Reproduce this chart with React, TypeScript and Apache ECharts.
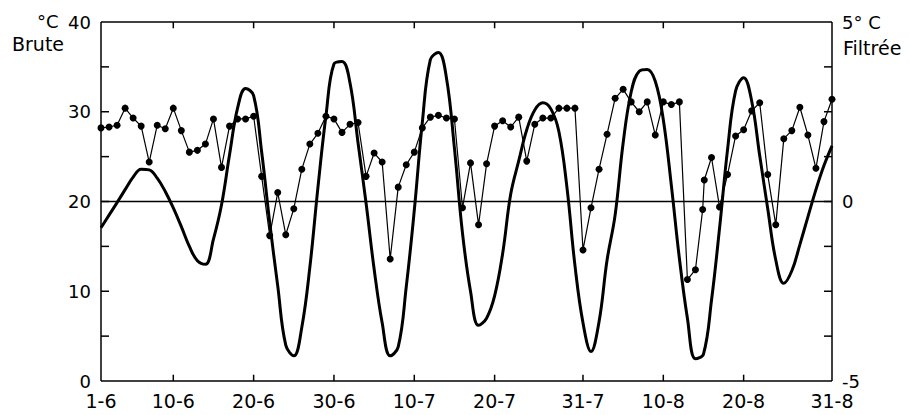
import React, { useEffect, useRef } from "react";
import * as echarts from "echarts";

// x-axis: days from 1 June to 31 August; labelled ticks at these day indices
const monthNumbers = [6, 7, 8];
const monthLengths = [30, 31, 31];
const tickDays = [0, 9, 19, 29, 39, 49, 60, 70, 80, 91];
const tickLabels = ["1-6", "10-6", "20-6", "30-6", "10-7", "20-7", "31-7", "10-8", "20-8", "31-8"];
const leftTicks = [0, 10, 20, 30, 40];
const minorLeftTicks = [5, 10, 15, 20, 25, 30, 35];

// Raw temperature (°C, left axis "Brute"); x = day index from 1 June
const rawDays = [
  0, 1, 2, 3, 4, 5, 6, 7, 8, 9,
  10, 11, 12, 13, 14, 15, 16, 17, 18, 19,
  20, 21, 22, 23, 24, 25, 26, 27, 28, 29,
  30, 31, 32, 33, 34, 35, 36, 37, 38, 39,
  40, 41, 42, 43, 44, 45, 46, 47, 48, 49,
  50, 51, 52, 53, 54, 55, 56, 57, 58, 59,
  60, 61, 62, 63, 64, 65, 66, 67, 68, 69,
  70, 71, 72, 73, 74, 74.9, 75.1, 76, 77, 78,
  79, 80, 81, 82, 83, 84, 85, 86, 87, 88,
  89, 90, 91,
];
const rawTemps = [
  28.2, 28.3, 28.5, 30.4, 29.3, 28.4, 24.4, 28.5, 28.1, 30.4,
  27.9, 25.5, 25.7, 26.4, 29.2, 23.8, 28.4, 29.2, 29.2, 29.5,
  22.8, 16.2, 21.0, 16.3, 19.2, 23.6, 26.4, 27.6, 29.5, 29.2,
  27.7, 28.6, 28.8, 22.8, 25.4, 24.4, 13.6, 21.6, 24.1, 25.5,
  28.2, 29.4, 29.6, 29.3, 29.2, 19.3, 24.3, 17.4, 24.2, 28.4,
  29.0, 28.3, 29.4, 24.5, 28.6, 29.3, 29.3, 30.4, 30.4, 30.4,
  14.6, 19.3, 23.6, 27.5, 31.5, 32.5, 31.1, 30.0, 31.1, 27.4,
  31.1, 30.8, 31.1, 11.3, 12.4, 19.1, 22.4, 24.9, 19.4, 23.0,
  27.3, 28.0, 30.1, 31.0, 23.0, 17.4, 27.0, 27.9, 30.5, 27.4,
  23.7, 28.9, 31.4,
];

// Filtered temperature (°C, right axis "Filtrée"), one value per day from 1 June
const filteredValues = [
  -0.73, -0.38, -0.03, 0.33, 0.68, 0.9, 0.88, 0.65, 0.28, -0.18,
  -0.7, -1.25, -1.65, -1.75, -1.05, -0.1, 1.3, 2.6, 3.15, 2.95,
  1.38, -0.58, -2.35, -4.0, -4.3, -3.5, -1.83, 0.38, 2.38, 3.83,
  3.9, 3.3, 1.63, -0.05, -1.88, -3.38, -4.3, -4.05, -2.38, -0.25,
  2.2, 3.95, 4.15, 3.45, 1.48, -0.88, -2.5, -3.45, -3.25, -2.63,
  -1.45, 0.2, 1.13, 2.0, 2.55, 2.75, 2.58, 1.95, 0.4, -1.78,
  -3.38, -4.18, -3.35, -1.63, -0.38, 1.63, 3.05, 3.63, 3.68, 3.35,
  2.28, 0.45, -1.58, -3.25, -4.38, -4.25, -2.75, -0.75, 1.45, 3.08,
  3.45, 2.8, 1.28, -0.2, -1.63, -2.28, -1.93, -1.2, -0.43, 0.33,
  1.0, 1.55,
];

const X_MIN = 0;
const X_MAX = 91;
const Y_MIN = 0;
const Y_MAX = 40;
const TICK_Y = 0.7; // tick length in °C units (vertical ticks)
const TICK_X = 1.0; // tick length in day units (horizontal ticks)
const FONT = "DejaVu Sans";
const INK = "#000";

export default function App() {
  const ref = useRef<HTMLDivElement>(null);

  useEffect(() => {
    if (!ref.current) return;
    const chart = echarts.init(ref.current, null, { renderer: "svg" });

    const dayNames: string[] = [];
    monthNumbers.forEach((m, k) => {
      for (let d = 1; d <= monthLengths[k]; d++) dayNames.push(`${d}-${m}`);
    });
    const isTick = (index: number) => tickDays.indexOf(index) >= 0;

    const rawData = rawDays.map((d, i) => [d, rawTemps[i]]);
    const filtData = filteredValues.map((v, i) => [i, v]);

    // frame and tick segments expressed in axis (data) units
    const segments: number[][][] = [
      [[X_MIN, Y_MIN], [X_MAX, Y_MIN]],
      [[X_MIN, Y_MAX], [X_MAX, Y_MAX]],
      [[X_MIN, Y_MIN], [X_MIN, Y_MAX]],
      [[X_MAX, Y_MIN], [X_MAX, Y_MAX]],
    ];
    tickDays.forEach((d) => {
      if (d === X_MIN || d === X_MAX) return;
      segments.push([[d, Y_MIN], [d, Y_MIN + TICK_Y]]);
      segments.push([[d, Y_MAX], [d, Y_MAX - TICK_Y]]);
    });
    minorLeftTicks.forEach((v) => {
      segments.push([[X_MIN, v], [X_MIN + TICK_X, v]]);
      segments.push([[X_MAX - TICK_X, v], [X_MAX, v]]);
    });

    const frameSeries = segments.map((seg) => ({
      type: "line",
      xAxisIndex: 2,
      yAxisIndex: 0,
      data: seg,
      showSymbol: false,
      symbol: "none",
      clip: false,
      silent: true,
      lineStyle: { color: INK, width: 1.5 },
      z: 5,
    }));

    chart.setOption({
      animation: false,
      grid: { left: 101, right: 78, top: 22, bottom: 34 },
      xAxis: [
        {
          type: "category",
          position: "bottom",
          data: dayNames,
          boundaryGap: false,
          splitLine: { show: false },
          axisLine: { show: false, onZero: false },
          axisTick: { show: false },
          axisLabel: {
            show: true,
            interval: (index: number) => isTick(index),
            formatter: (v: string) => (tickLabels.indexOf(v) >= 0 ? v : ""),
            color: INK,
            fontFamily: FONT,
            fontSize: 19,
            margin: 10,
          },
        },
        {
          type: "category",
          position: "top",
          data: dayNames,
          boundaryGap: false,
          show: false,
        },
        {
          type: "value",
          min: X_MIN,
          max: X_MAX,
          show: false,
          splitLine: { show: false },
        },
      ],
      yAxis: [
        {
          type: "value",
          position: "left",
          min: Y_MIN,
          max: Y_MAX,
          interval: 5,
          splitLine: { show: false },
          axisLine: { show: false, onZero: false },
          axisTick: { show: false },
          axisLabel: {
            color: INK,
            fontFamily: FONT,
            fontSize: 18,
            margin: 10,
            formatter: (v: number) => (leftTicks.indexOf(v) >= 0 ? String(v) : ""),
          },
        },
        {
          type: "value",
          position: "right",
          min: -5,
          max: 5,
          interval: 1.25,
          splitLine: { show: false },
          axisLine: { show: false, onZero: false },
          axisTick: { show: false },
          axisLabel: {
            color: INK,
            fontFamily: FONT,
            fontSize: 18,
            margin: 10,
            formatter: (v: number) => {
              if (Math.abs(v - 5) < 1e-6) return "5° C";
              if (Math.abs(v) < 1e-6) return "0";
              if (Math.abs(v + 5) < 1e-6) return "-5";
              return "";
            },
          },
        },
      ],
      graphic: [
        {
          type: "text",
          left: 37,
          top: 12,
          style: { text: "°C", fill: INK, font: `18px '${FONT}'` },
        },
        {
          type: "text",
          left: 12,
          top: 34,
          style: { text: "Brute", fill: INK, font: `19px '${FONT}'` },
        },
        {
          type: "text",
          left: 843,
          top: 38,
          style: { text: "Filtrée", fill: INK, font: `19px '${FONT}'` },
        },
      ],
      series: [
        {
          name: "Brute",
          type: "line",
          xAxisIndex: 2,
          yAxisIndex: 0,
          data: rawData,
          symbol: "circle",
          symbolSize: 7,
          showSymbol: true,
          lineStyle: { color: INK, width: 1.2 },
          itemStyle: { color: INK },
          z: 3,
          markLine: {
            silent: true,
            symbol: ["none", "none"],
            label: { show: false },
            lineStyle: { color: INK, width: 1.3, type: "solid" },
            data: [{ yAxis: 20 }],
          },
        },
        {
          name: "Filtrée",
          type: "line",
          xAxisIndex: 2,
          yAxisIndex: 1,
          data: filtData,
          smooth: 0.4,
          showSymbol: false,
          lineStyle: { color: INK, width: 3 },
          z: 2,
        },
        ...frameSeries,
      ],
    });

    return () => chart.dispose();
  }, []);

  return (
    <div
      ref={ref}
      style={{ position: "fixed", left: 0, top: 0, width: 910, height: 415, background: "#fff" }}
    />
  );
}
